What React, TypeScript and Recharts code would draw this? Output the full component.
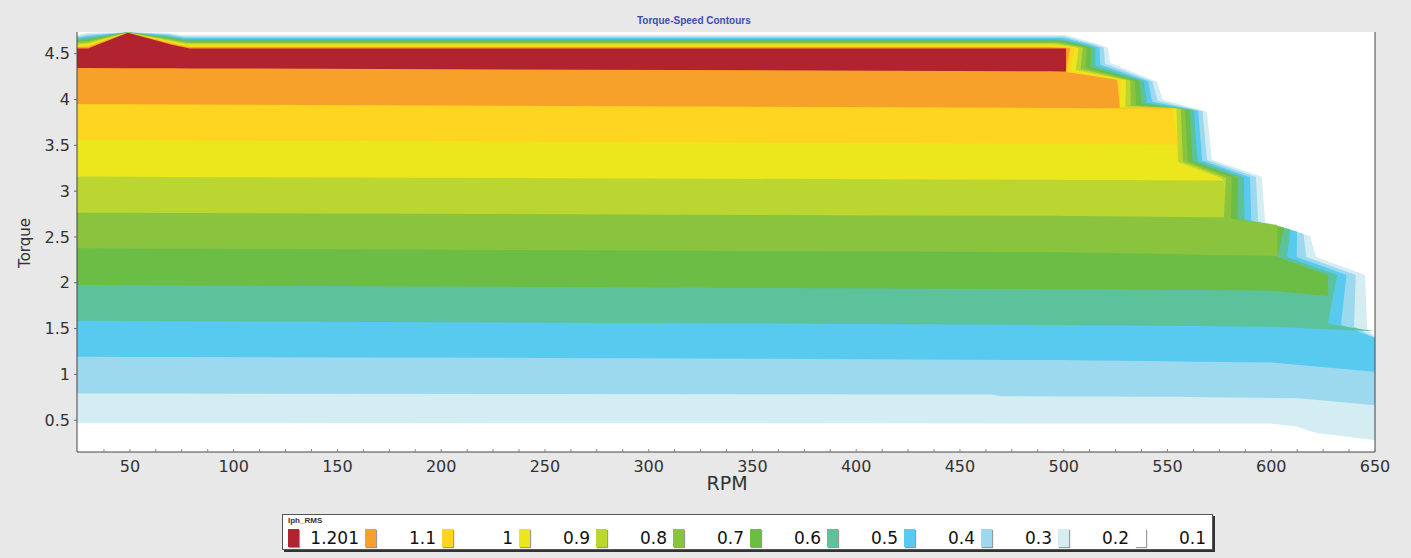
import React from 'react';
import { ComposedChart, Area, XAxis, YAxis, CartesianGrid, ReferenceLine } from 'recharts';

type Pt = [number, number];

// contour levels of Iph_RMS and the fill painted above each level
const LEVELS = [0.1, 0.2, 0.3, 0.4, 0.5, 0.6, 0.7, 0.8, 0.9, 1.0, 1.1];
const LEVEL_COLORS = [
  '#d4edf3', '#9cd9ef', '#58c9ef', '#5cc29c', '#6bbd45', '#8ac43f',
  '#bcd631', '#ebe71c', '#fdd420', '#f7a12a', '#b22330',
];

// lower boundary (rpm, torque) of each level
const LEVEL_BOTTOMS: Pt[][] = [
  [[24.5, 0.47], [599, 0.464], [612, 0.43], [622, 0.36], [650, 0.28]],
  [[24.5, 0.792], [465, 0.78], [470, 0.762], [555, 0.755], [612, 0.74], [650, 0.664]],
  [[24.5, 1.192], [250, 1.18], [500, 1.156], [600, 1.13], [650, 1.03]],
  [[24.5, 1.585], [250, 1.565], [500, 1.54], [600, 1.52], [630, 1.49], [650, 1.47]],
  [[24.5, 1.975], [500, 1.93], [600, 1.915], [630, 1.85], [650, 1.82]],
  [[24.5, 2.376], [500, 2.333], [610, 2.29], [650, 2.27]],
  [[24.5, 2.766], [500, 2.73], [650, 2.7]],
  [[24.5, 3.159], [500, 3.123], [650, 3.11]],
  [[24.5, 3.56], [500, 3.516], [650, 3.5]],
  [[24.5, 3.95], [500, 3.907], [650, 3.9]],
  [[24.5, 4.344], [500, 4.307], [650, 4.3]],
];

// torque-speed envelope: outermost contour (0.1) ...
const OUTER_EDGE: Pt[] = [
  [24.5, 4.703], [29.8, 4.728], [49.0, 4.735], [68.3, 4.728], [75.1, 4.703],
  [501.1, 4.703], [516.0, 4.609], [521.3, 4.566], [522.3, 4.402], [544.9, 4.194],
  [547.8, 3.997], [569.0, 3.866], [571.4, 3.342], [595.5, 3.156], [597.0, 2.664],
  [618.7, 2.511], [621.6, 2.281], [645.2, 2.085], [646.2, 1.505], [650.0, 1.407],
];
// ... and the edge of the solid bands inside it (same vertices)
const INNER_EDGE: Pt[] = [
  [24.5, 4.558], [29.8, 4.558], [49.0, 4.73], [70.2, 4.598], [78.9, 4.558],
  [493.4, 4.558], [500.1, 4.558], [501.1, 4.558], [501.1, 4.3], [525.7, 4.216],
  [527.1, 3.91], [552.2, 3.91], [555.1, 3.32], [575.3, 3.145], [577.2, 2.708],
  [603.0, 2.631], [603.0, 2.281], [627.3, 2.085], [627.3, 1.56], [650.0, 1.396],
];
// Iph_RMS of the band sitting at each inner vertex
const EDGE_VALUE = [
  1.1, 1.1, 1.1, 1.1, 1.1, 1.1, 1.1, 1.1, 1.0, 1.0,
  0.9, 0.9, 0.8, 0.8, 0.7, 0.6, 0.5, 0.5, 0.4, 0.3,
];

const X_MAJOR = [50, 100, 150, 200, 250, 300, 350, 400, 450, 500, 550, 600, 650];
const X_TICKS = Array.from({ length: 50 }, (_, i) => 37.5 + i * 12.5);
const Y_TICKS = [0.5, 1, 1.5, 2, 2.5, 3, 3.5, 4, 4.5];

const LEGEND_LABELS = ['1.201', '1.1', '1', '0.9', '0.8', '0.7', '0.6', '0.5', '0.4', '0.3', '0.2', '0.1'];
const LEGEND_COLORS = [
  '#b22330', '#f7a12a', '#fdd420', '#ebe71c', '#bcd631', '#8ac43f',
  '#6bbd45', '#5cc29c', '#58c9ef', '#9cd9ef', '#d4edf3', '#ffffff',
];

function valueAt(line: Pt[], x: number) {
  if (x <= line[0][0]) return line[0][1];
  for (let i = 1; i < line.length; i++) {
    const [x0, y0] = line[i - 1];
    const [x1, y1] = line[i];
    if (x <= x1) return x1 === x0 ? y1 : y0 + ((y1 - y0) * (x - x0)) / (x1 - x0);
  }
  return line[line.length - 1][1];
}

// edge of the region where Iph_RMS >= level
function levelEdge(level: number): Pt[] {
  return OUTER_EDGE.map(([ox, oy], i) => {
    const [ix, iy] = INNER_EDGE[i];
    const f = Math.min(1, Math.max(0, (level - LEVELS[0]) / (EDGE_VALUE[i] - LEVELS[0])));
    return [ox + (ix - ox) * f, oy + (iy - oy) * f];
  });
}

function bandRows(level: number, bottom: Pt[]) {
  const edge = levelEdge(level);
  const rows: { rpm: number; band: [number, number] }[] = [];
  const push = (x: number, t: number) => {
    const low = valueAt(bottom, x);
    rows.push({ rpm: x, band: [low, Math.max(low, t)] });
  };
  edge.forEach(([x, t], i) => {
    if (i > 0) {
      const [px, pt] = edge[i - 1];
      bottom.forEach(([bx]) => {
        if (bx > px && bx < x) push(bx, pt + ((t - pt) * (bx - px)) / (x - px));
      });
    }
    push(x, t);
  });
  return rows;
}

const BANDS = LEVELS.map((level, i) => ({
  level,
  color: LEVEL_COLORS[i],
  rows: bandRows(level, LEVEL_BOTTOMS[i]),
}));

function RpmTick(props: any) {
  const { x, y, payload } = props;
  const v = payload.value as number;
  return (
    <g>
      <line x1={x} x2={x} y1={y} y2={y - 3} stroke="#888" />
      {X_MAJOR.includes(v) && (
        <text x={x} y={y + 20} textAnchor="middle" fontSize={16} fontFamily="DejaVu Sans" fill="#333">
          {v}
        </text>
      )}
    </g>
  );
}

export default function App() {
  return (
    <div style={{ position: 'relative', width: 1411, height: 558, background: '#e8e8e8', overflow: 'hidden' }}>
      <style>{'body{margin:0;background:#e8e8e8}'}</style>
      <div
        style={{
          position: 'absolute', left: 637, top: 15, fontSize: 10, fontWeight: 'bold',
          fontFamily: 'Liberation Sans', color: '#3a4db5', whiteSpace: 'nowrap',
        }}
      >
        Torque-Speed Contours
      </div>
      <ComposedChart width={1411} height={558} margin={{ top: 32, right: 36, bottom: 66, left: 17 }}>
        <CartesianGrid fill="#ffffff" horizontal={false} vertical={false} />
        <XAxis
          dataKey="rpm"
          type="number"
          domain={[24.5, 650]}
          allowDataOverflow
          ticks={X_TICKS}
          interval={0}
          tick={<RpmTick />}
          tickLine={false}
          tickSize={0}
          tickMargin={0}
          height={40}
          axisLine={{ stroke: '#444' }}
        />
        <YAxis
          type="number"
          domain={[0.153, 4.737]}
          allowDataOverflow
          ticks={Y_TICKS}
          interval={0}
          width={60}
          tickSize={3}
          tickMargin={4}
          tick={{ fontSize: 16, fill: '#333', fontFamily: 'DejaVu Sans' }}
          tickLine={{ stroke: '#666' }}
          axisLine={{ stroke: '#444' }}
        />
        {BANDS.map((b) => (
          <Area
            key={b.level}
            data={b.rows}
            dataKey="band"
            type="linear"
            fill={b.color}
            fillOpacity={1}
            stroke="none"
            dot={false}
            activeDot={false}
            isAnimationActive={false}
          />
        ))}
        <ReferenceLine x={650} stroke="#444" />
      </ComposedChart>
      <div
        style={{
          position: 'absolute', left: 727, top: 474, transform: 'translateX(-50%)',
          fontSize: 19, fontFamily: 'DejaVu Sans', color: '#333', lineHeight: '19px',
        }}
      >
        RPM
      </div>
      <div
        style={{
          position: 'absolute', left: 25, top: 243, transform: 'translate(-50%, -50%) rotate(-90deg)',
          fontSize: 15, fontFamily: 'DejaVu Sans', color: '#333', lineHeight: '15px', whiteSpace: 'nowrap',
        }}
      >
        Torque
      </div>
      <div
        style={{
          position: 'absolute', left: 282, top: 514, width: 931, height: 36, boxSizing: 'border-box',
          background: '#fff', border: '1px solid #555', boxShadow: '2px 2px 0 #333',
        }}
      >
        <div
          style={{
            position: 'absolute', left: 5, top: 1, fontSize: 8, fontWeight: 'bold',
            fontFamily: 'Liberation Sans', color: '#333', lineHeight: '9px',
          }}
        >
          Iph_RMS
        </div>
        {LEGEND_LABELS.map((label, i) => (
          <div key={label} style={{ position: 'absolute', left: 5 + i * 77, top: 14, width: 71, height: 19 }}>
            <div
              style={{
                position: 'absolute', left: 0, top: 0, width: 11, height: 18,
                background: LEGEND_COLORS[i], boxShadow: '1px 1px 1px #999',
              }}
            />
            <div
              style={{
                position: 'absolute', right: 0, top: 0, fontSize: 17, fontFamily: 'DejaVu Sans',
                color: '#111', lineHeight: '18px', whiteSpace: 'nowrap',
              }}
            >
              {label}
            </div>
          </div>
        ))}
      </div>
    </div>
  );
}
